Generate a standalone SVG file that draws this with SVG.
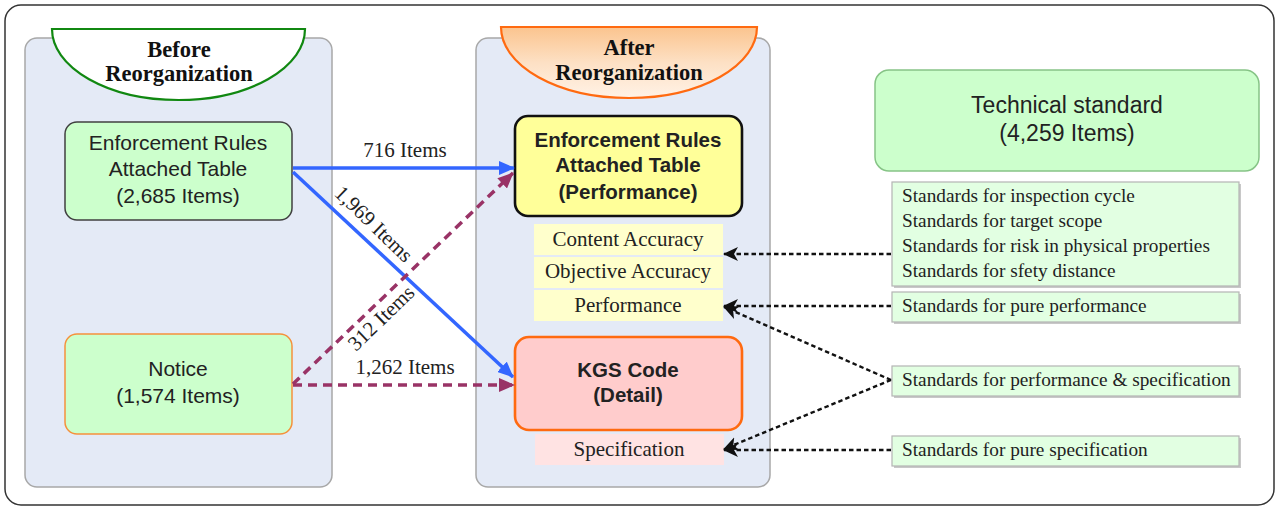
<svg xmlns="http://www.w3.org/2000/svg" width="1279" height="507" viewBox="0 0 1279 507">
<defs>
<linearGradient id="afterGrad" x1="0" y1="0" x2="0" y2="1">
<stop offset="0" stop-color="#fbc48e"/>
<stop offset="0.5" stop-color="#fde0c4"/>
<stop offset="1" stop-color="#fff2e6"/>
</linearGradient>
<marker id="arrBlue" markerUnits="userSpaceOnUse" markerWidth="16" markerHeight="14" refX="15" refY="7" orient="auto">
<path d="M0,0 L16,7 L0,14 Z" fill="#3366ff"/>
</marker>
<marker id="arrPurple" markerUnits="userSpaceOnUse" markerWidth="16" markerHeight="14" refX="15" refY="7" orient="auto">
<path d="M0,0 L16,7 L0,14 Z" fill="#993366"/>
</marker>
<marker id="arrBlack" markerUnits="userSpaceOnUse" markerWidth="15" markerHeight="14" refX="14" refY="7" orient="auto">
<path d="M0,0 L15,7 L0,14 L4,7 Z" fill="#111"/>
</marker>
</defs>
<style>
.panel{fill:#e4eaf6;stroke:#a8a8a8;stroke-width:1.5}
.sans{font-family:"Liberation Sans",Arial,sans-serif;fill:#222;text-anchor:middle}
.serif{font-family:"Liberation Serif","Times New Roman",serif;fill:#222}
.hdr{font-family:"Liberation Serif","Times New Roman",serif;font-weight:bold;font-size:22.5px;fill:#111;text-anchor:middle}
.row{font-size:21px;text-anchor:middle}
.std{fill:#e2ffe2;stroke:#b4b4b4;stroke-width:1.2}
.shadow{fill:#c8c8c8}
.stdtxt{font-size:19.3px}
.blue{stroke:#3366ff;stroke-width:3.5;fill:none;marker-end:url(#arrBlue)}
.purple{stroke:#993366;stroke-width:3.5;fill:none;stroke-dasharray:9 6;marker-end:url(#arrPurple)}
.black{stroke:#111;stroke-width:2.4;fill:none;stroke-dasharray:4.5 3;marker-end:url(#arrBlack)}
.lbl{font-size:21px;text-anchor:middle}
</style>
<rect width="1279" height="507" fill="#ffffff"/>
<rect x="5" y="5" width="1269" height="500" rx="16" fill="#ffffff" stroke="#333" stroke-width="1.5"/>

<g id="before-panel">
<rect class="panel" x="25" y="38" width="307" height="449" rx="12"/>
<path d="M52,29 H305 A126.5,71 0 0 1 52,29 Z" fill="#ffffff" stroke="#118811" stroke-width="2.2"/>
<text class="hdr" x="179" y="57">Before</text>
<text class="hdr" x="179" y="81">Reorganization</text>
</g>

<g id="after-panel">
<rect class="panel" x="476" y="38" width="294" height="449" rx="12"/>
<path d="M501,27 H757 A128,71 0 0 1 501,27 Z" fill="url(#afterGrad)" stroke="#ff6a10" stroke-width="2.2"/>
<text class="hdr" x="629" y="55">After</text>
<text class="hdr" x="629" y="80">Reorganization</text>
</g>

<g id="node-enforcement-before">
<rect x="65" y="122" width="227" height="98" rx="12" fill="#ccffcc" stroke="#404040" stroke-width="1.5"/>
<text class="sans" font-size="21" x="178" y="150">Enforcement Rules</text>
<text class="sans" font-size="21" x="178" y="176">Attached Table</text>
<text class="sans" font-size="21" x="178" y="203">(2,685 Items)</text>
</g>

<g id="node-notice">
<rect x="65" y="334" width="227" height="100" rx="12" fill="#ccffcc" stroke="#f5913c" stroke-width="1.5"/>
<text class="sans" font-size="21" x="178" y="376">Notice</text>
<text class="sans" font-size="21" x="178" y="403">(1,574 Items)</text>
</g>

<g id="node-enforcement-after">
<rect x="515" y="116" width="227" height="100" rx="13" fill="#ffff99" stroke="#111" stroke-width="2.6"/>
<text class="sans" font-size="20.5" font-weight="bold" x="628" y="147">Enforcement Rules</text>
<text class="sans" font-size="20.5" font-weight="bold" x="628" y="172">Attached Table</text>
<text class="sans" font-size="20.5" font-weight="bold" x="628" y="199">(Performance)</text>
</g>

<g id="node-content-accuracy">
<rect x="534" y="224" width="189" height="31" fill="#ffffcc"/>
<text class="serif row" x="628" y="246">Content Accuracy</text>
</g>
<g id="node-objective-accuracy">
<rect x="534" y="257" width="189" height="31" fill="#ffffcc"/>
<text class="serif row" x="628" y="278">Objective Accuracy</text>
</g>
<g id="node-performance">
<rect x="534" y="290" width="189" height="31" fill="#ffffcc"/>
<text class="serif row" x="628" y="312">Performance</text>
</g>

<g id="node-kgs">
<rect x="515" y="337" width="227" height="93" rx="14" fill="#ffcccc" stroke="#ff6a10" stroke-width="2.6"/>
<text class="sans" font-size="20.5" font-weight="bold" x="628" y="377">KGS Code</text>
<text class="sans" font-size="20.5" font-weight="bold" x="628" y="402">(Detail)</text>
</g>

<g id="node-specification">
<rect x="535" y="434" width="189" height="31" fill="#ffe3e3"/>
<text class="serif row" x="629" y="456">Specification</text>
</g>

<g id="node-technical-standard">
<rect x="875" y="70" width="384" height="101" rx="14" fill="#ccffcc" stroke="#86c486" stroke-width="1.5"/>
<text class="sans" font-size="23" x="1067" y="113">Technical standard</text>
<text class="sans" font-size="23" x="1067" y="141">(4,259 Items)</text>
</g>

<g id="node-standards-list">
<rect class="shadow" x="894" y="184" width="347" height="104"/>
<rect class="std" x="892" y="182" width="347" height="104"/>
<text class="serif stdtxt" x="902" y="202">Standards for inspection cycle</text>
<text class="serif stdtxt" x="902" y="227">Standards for target scope</text>
<text class="serif stdtxt" x="902" y="252">Standards for risk in physical properties</text>
<text class="serif stdtxt" x="902" y="277">Standards for sfety distance</text>
</g>

<g id="node-pure-performance">
<rect class="shadow" x="894" y="294" width="347" height="30"/>
<rect class="std" x="892" y="292" width="347" height="30"/>
<text class="serif stdtxt" x="902" y="312">Standards for pure performance</text>
</g>

<g id="node-perf-spec">
<rect class="shadow" x="894" y="368" width="347" height="30"/>
<rect class="std" x="892" y="366" width="347" height="30"/>
<text class="serif stdtxt" x="902" y="386">Standards for performance &amp; specification</text>
</g>

<g id="node-pure-spec">
<rect class="shadow" x="894" y="438" width="347" height="30"/>
<rect class="std" x="892" y="436" width="347" height="30"/>
<text class="serif stdtxt" x="902" y="456">Standards for pure specification</text>
</g>

<g id="connectors">
<line class="blue" x1="293" y1="168" x2="514" y2="168"/>
<line class="blue" x1="293" y1="172" x2="513" y2="377"/>
<line class="purple" x1="293" y1="384" x2="513" y2="173"/>
<line class="purple" x1="293" y1="385" x2="514" y2="385"/>
<line class="black" x1="891" y1="254" x2="724" y2="254"/>
<line class="black" x1="891" y1="306" x2="724" y2="306"/>
<line class="black" x1="891" y1="380" x2="724" y2="307"/>
<line class="black" x1="891" y1="380" x2="724" y2="449"/>
<line class="black" x1="891" y1="450" x2="724" y2="450"/>
<text class="serif lbl" x="405" y="157">716 Items</text>
<text class="serif lbl" x="405" y="374">1,262 Items</text>
<text class="serif lbl" transform="translate(369,229) rotate(44)">1,969 Items</text>
<text class="serif lbl" transform="translate(386,323) rotate(-44)">312 Items</text>
</g>
</svg>
